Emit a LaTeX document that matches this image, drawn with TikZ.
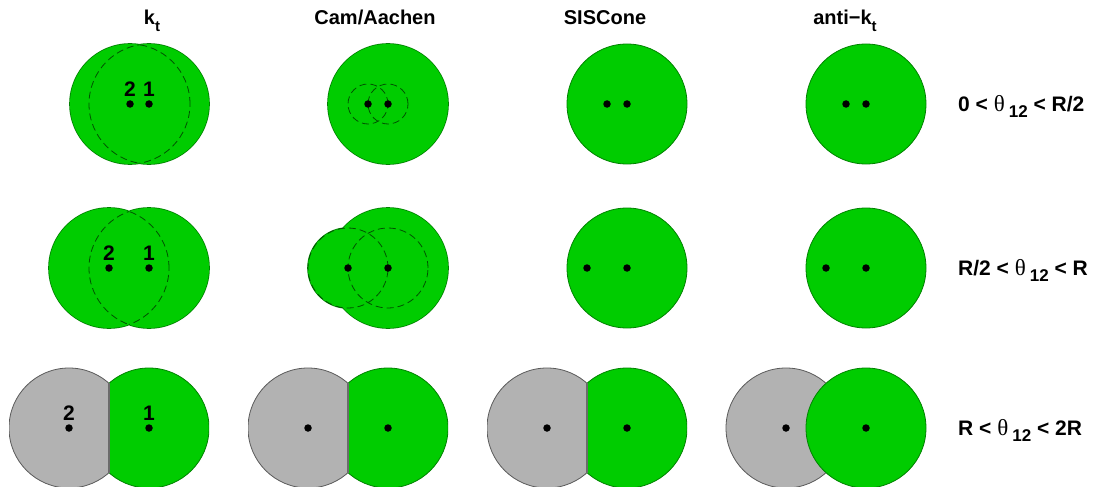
\documentclass[tikz,border=0pt]{standalone}
\usepackage{fontspec}
\setmainfont{Liberation Sans}
\newfontfamily\greekfont{Liberation Serif}
\usepackage{xcolor}
\usepackage{tikz}
\definecolor{jetgreen}{RGB}{0,204,0}
\definecolor{jetedge}{RGB}{0,130,0}
\definecolor{lostgray}{RGB}{178,178,178}
\definecolor{lostedge}{RGB}{90,90,90}
\tikzstyle{dot} = [circle, fill=black, inner sep=0pt, minimum size=7.5pt]
\tikzstyle{jet} = [fill=jetgreen, draw=jetedge, line width=0.8pt]
\tikzstyle{lost} = [fill=lostgray, draw=lostedge, line width=0.8pt]
\tikzstyle{border} = [draw=jetedge, line width=1.6pt]
\tikzstyle{merge} = [draw=black!60!jetgreen, line width=0.8pt, dash pattern=on 7pt off 4pt]
\tikzstyle{cut} = [draw=lostedge!90, line width=1.6pt]
\tikzstyle{head} = [anchor=base, font=\fontsize{20}{20}\selectfont\bfseries]
\tikzstyle{num} = [anchor=base, font=\fontsize{21}{21}\selectfont\bfseries]
\tikzstyle{rowlabel} = [anchor=base west, inner sep=0pt, font=\fontsize{21}{21}\selectfont\bfseries]
\newcommand{\lowsub}[1]{\raisebox{-7pt}{\fontsize{15}{15}\selectfont #1}}
\newcommand{\thetatwelve}{{\greekfont\mdseries\fontsize{23}{23}\selectfont θ}\hspace{4pt}\raisebox{-6pt}{\fontsize{17}{17}\selectfont 12}}

\begin{document}
\begin{tikzpicture}[x=1pt, y=-1pt]
	\useasboundingbox (0,0) rectangle (1109,487);
	% particle positions
	\coordinate (ktA1) at (149,104); \coordinate (ktA2) at (130,104);
	\coordinate (caA1) at (388,104); \coordinate (caA2) at (368,104);
	\coordinate (siA1) at (627,104); \coordinate (siA2) at (607,104);
	\coordinate (akA1) at (866,104); \coordinate (akA2) at (846,104);
	\coordinate (ktB1) at (149,268); \coordinate (ktB2) at (109,268);
	\coordinate (caB1) at (388,268); \coordinate (caB2) at (348,268);
	\coordinate (siB1) at (627,268); \coordinate (siB2) at (587,268);
	\coordinate (akB1) at (866,268); \coordinate (akB2) at (826,268);
	\coordinate (ktC1) at (149,428); \coordinate (ktC2) at (69,428);
	\coordinate (caC1) at (388,428); \coordinate (caC2) at (308,428);
	\coordinate (siC1) at (627,428); \coordinate (siC2) at (547,428);
	\coordinate (akC1) at (866,428); \coordinate (akC2) at (786,428);

	% column and row titles
	\node (hkt) [head] at (152,25) {k\lowsub{t}};
	\node (hca) [head] at (375,25) {Cam/Aachen};
	\node (hsi) [head] at (605,25) {SISCone};
	\node (hak) [head] at (845,25) {anti−k\lowsub{t}};
	\node (rA) [rowlabel] at (958,111) {0 < \thetatwelve{} < R/2};
	\node (rB) [rowlabel] at (958,275) {R/2 < \thetatwelve{} < R};
	\node (rC) [rowlabel] at (958,435) {R < \thetatwelve{} < 2R};

	% kt
	\draw [border] (ktA1) circle (60pt) (ktA2) circle (60pt);
	\fill [jetgreen] (ktA1) circle (60pt) (ktA2) circle (60pt);
	\begin{scope} \clip (ktA1) circle (60pt); \draw [merge] (ktA2) circle (60pt); \end{scope}
	\begin{scope} \clip (ktA2) circle (60pt); \draw [merge] (ktA1) circle (60pt); \end{scope}
	\draw [border] (ktB1) circle (60pt) (ktB2) circle (60pt);
	\fill [jetgreen] (ktB1) circle (60pt) (ktB2) circle (60pt);
	\begin{scope} \clip (ktB1) circle (60pt); \draw [merge] (ktB2) circle (60pt); \end{scope}
	\begin{scope} \clip (ktB2) circle (60pt); \draw [merge] (ktB1) circle (60pt); \end{scope}
	\begin{scope} \clip (ktC1) ++(-40,-70) rectangle ++(-100,140); \draw [lost] (ktC2) circle (60pt); \end{scope}
	\begin{scope} \clip (ktC1) ++(-40,-70) rectangle ++(100,140); \draw [jet] (ktC1) circle (60pt); \end{scope}
	\draw [cut] (ktC1) ++(-40,-44.7) -- ++(0,89.4);

	% Cam/Aachen
	\draw [border] (caA2) circle (20pt) (caA1) circle (60pt);
	\fill [jetgreen] (caA2) circle (20pt) (caA1) circle (60pt);
	\draw [merge] (caA2) circle (20pt) (caA1) circle (20pt);
	\draw [border] (caB2) circle (40pt) (caB1) circle (60pt);
	\fill [jetgreen] (caB2) circle (40pt) (caB1) circle (60pt);
	\draw [merge] (caB2) circle (40pt) (caB1) circle (40pt);
	\begin{scope} \clip (caC1) ++(-40,-70) rectangle ++(-100,140); \draw [lost] (caC2) circle (60pt); \end{scope}
	\begin{scope} \clip (caC1) ++(-40,-70) rectangle ++(100,140); \draw [jet] (caC1) circle (60pt); \end{scope}
	\draw [cut] (caC1) ++(-40,-44.7) -- ++(0,89.4);

	% SISCone
	\draw [jet] (siA1) circle (60pt);
	\draw [jet] (siB1) circle (60pt);
	\begin{scope} \clip (siC1) ++(-40,-70) rectangle ++(-100,140); \draw [lost] (siC2) circle (60pt); \end{scope}
	\begin{scope} \clip (siC1) ++(-40,-70) rectangle ++(100,140); \draw [jet] (siC1) circle (60pt); \end{scope}
	\draw [cut] (siC1) ++(-40,-44.7) -- ++(0,89.4);

	% anti-kt
	\draw [jet] (akA1) circle (60pt);
	\draw [jet] (akB1) circle (60pt);
	\draw [lost] (akC2) circle (60pt);
	\draw [jet] (akC1) circle (60pt);

	% particles
	\foreach \p in {ktA1,ktA2,caA1,caA2,siA1,siA2,akA1,akA2,ktB1,ktB2,caB1,caB2,siB1,siB2,akB1,akB2,ktC1,ktC2,caC1,caC2,siC1,siC2,akC1,akC2}
		\node (d\p) [dot] at (\p) {};
	\node (lA1) [num] at ([yshift=8pt]ktA1) {1};
	\node (lA2) [num] at ([yshift=8pt]ktA2) {2};
	\node (lB1) [num] at ([yshift=8pt]ktB1) {1};
	\node (lB2) [num] at ([yshift=8pt]ktB2) {2};
	\node (lC1) [num] at ([yshift=8pt]ktC1) {1};
	\node (lC2) [num] at ([yshift=8pt]ktC2) {2};
\end{tikzpicture}
\end{document}
